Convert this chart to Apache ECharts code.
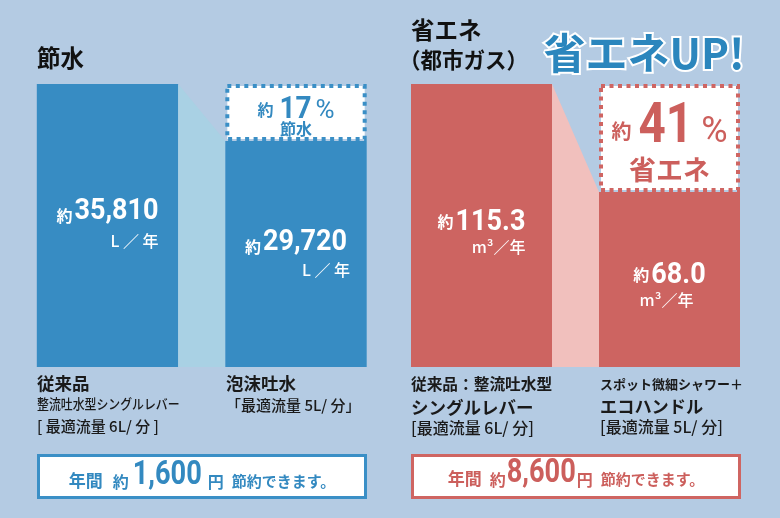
<!DOCTYPE html>
<html><head><meta charset="utf-8">
<script src="https://cdn.jsdelivr.net/npm/echarts@6/dist/echarts.min.js"></script>
<style>html,body{margin:0;padding:0;background:#b4cbe3}#c{width:780px;height:518px}</style>
</head><body><div id="c"></div>
<script>
// ---- data ----
const waterCategories = ['従来品', '泡沫吐水'];
const waterValues = [35810, 29720];
const waterUnit = 'L ／ 年';
const gasCategories = ['従来品：整流吐水型シングルレバー', 'スポット微細シャワー＋エコハンドル'];
const gasValues = [115.3, 68.0];
const gasUnit = 'm³／年';
const waterCaptions = [['従来品', '整流吐水型シングルレバー', '[ 最適流量 6L/ 分 ]'], ['泡沫吐水', '「最適流量 5L/ 分」']];
const gasCaptions = [['従来品：整流吐水型', 'シングルレバー', '[最適流量 6L/ 分]'], ['スポット微細シャワー＋', 'エコハンドル', '[最適流量 5L/ 分]']];
const savingLabels = ['節水', '省エネ'];
const yenSaved = ['1,600', '8,600'];

// ---- style ----
const CJK = "'Noto Sans CJK JP', 'Noto Sans', sans-serif";
const NUM = "Roboto, 'Liberation Sans', sans-serif";

// text-row helper: tokens laid out on a common glyph bottom line
const mctx = document.createElement('canvas').getContext('2d');
mctx.textBaseline = 'middle';
function measure(k) {
  mctx.font = (k.w || 'normal') + ' ' + k.s + 'px ' + k.f;
  const m = mctx.measureText(k.t);
  return { w: m.width * (k.sx || 1), d: m.actualBoundingBoxDescent };
}
function row(tokens, x, yb, align, color) {
  const ms = tokens.map(measure);
  let total = 0;
  ms.forEach((m, i) => { total += m.w + (i < tokens.length - 1 ? (tokens[i].g || 0) : 0); });
  let cx = align === 'center' ? x - total / 2 : align === 'right' ? x - total : x;
  const left = cx;
  const els = tokens.map((k, i) => {
    const el = { type: 'text', x: cx, y: yb - ms[i].d + (k.dy || 0), scaleX: k.sx || 1,
      style: { text: k.t, fontSize: k.s, fontWeight: k.w || 'normal', fontFamily: k.f, fill: k.c || color, align: 'left', verticalAlign: 'middle' } };
    cx += ms[i].w + (k.g || 0);
    return el;
  });
  return { els, left, right: left + total };
}

const panels = [
  { values: waterValues, min: 5600, bar: '#378cc3', link: '#a9d1e4', accent: '#3a8fc6', txt: '#3389c0',
    unit: waterUnit, fmt: v => v.toLocaleString('en-US'), unitAlign: ['right', 'right'], unitDx: [0, 3],
    dy1: [-2, 1], dy2: [23, 24], label: savingLabels[0],
    box: { a: 16, ag: 6, n: 31, nsx: 0.9, ng: 4, p: 26, yb: 118, t: 16, tyb: 137 } },
  { values: gasValues, min: -8.6, bar: '#cd6461', link: '#f1c0bd', accent: '#cf6562', txt: '#cc5f5c',
    unit: gasUnit, fmt: v => v.toFixed(1), unitAlign: ['right', 'center'], unitDx: [0, -3],
    dy1: [4.5, 3.5], dy2: [29.5, 28.5], label: savingLabels[1],
    box: { a: 20, ag: 7, n: 56, nsx: 0.85, ng: 8, p: 36, yb: 142, t: 27, tyb: 183 } }
];

function makeRender(p) {
  return function (params, api) {
    const i = api.value(0), v = api.value(1);
    const cs = params.coordSys;
    const bottom = cs.y + cs.height;
    const w = api.size([1, 0])[0] * 0.75;
    const c = api.coord([i, v]);
    const x0 = c[0] - w / 2;
    const children = [];
    if (i > 0) {
      const prevV = p.values[i - 1];
      const prev = api.coord([i - 1, prevV]);
      children.push({ type: 'polygon', shape: { points: [[prev[0] + w / 2, prev[1]], [x0, c[1]], [x0, bottom], [prev[0] + w / 2, bottom]] }, style: { fill: p.link } });
      const h = c[1] - prev[1];
      children.push({ type: 'rect', shape: { x: x0 + 2, y: prev[1] + 2, width: w - 4, height: h - 4 }, style: { fill: '#fff', stroke: p.accent, lineWidth: 4, lineDash: [4, 4.5] } });
      const pct = Math.round((prevV - v) / prevV * 100);
      const b = p.box;
      const r1 = row([
        { t: '約', s: b.a, w: 'bold', f: CJK, g: b.ag },
        { t: String(pct), s: b.n, w: 'bold', f: NUM, sx: b.nsx, g: b.ng },
        { t: '%', s: b.p, w: 'normal', f: NUM }
      ], c[0], b.yb, 'center', p.txt);
      const r2 = row([{ t: p.label, s: b.t, w: 'bold', f: CJK }], c[0], b.tyb, 'center', p.txt);
      children.push(...r1.els, ...r2.els);
    }
    children.push({ type: 'rect', shape: { x: x0, y: c[1], width: w, height: bottom - c[1] }, style: { fill: p.bar } });
    const mid = (c[1] + bottom) / 2;
    const v1 = row([
      { t: '約', s: 16, w: 'bold', f: CJK, g: 2 },
      { t: p.fmt(v), s: 30, w: 'bold', f: NUM, sx: 0.9 }
    ], c[0], mid + p.dy1[i], 'center', '#fff');
    const ua = p.unitAlign[i];
    const v2 = row([{ t: p.unit, s: 16, w: 500, f: CJK }], (ua === 'right' ? v1.right : c[0]) + p.unitDx[i], mid + p.dy2[i], ua, '#fff');
    children.push(...v1.els, ...v2.els);
    return { type: 'group', children };
  };
}

// captions, titles and boxes
const graphic = [
  { type: 'text', x: 37, y: 58, style: { text: '節水', fontFamily: CJK, fontSize: 23.5, fontWeight: 'bold', fill: '#111', verticalAlign: 'middle' } },
  { type: 'text', x: 411, y: 30, style: { text: '省エネ', fontFamily: CJK, fontSize: 23.5, fontWeight: 'bold', fill: '#111', verticalAlign: 'middle' } },
  { type: 'text', x: 399, y: 60, style: { text: '（都市ガス）', fontFamily: CJK, fontSize: 21.5, fontWeight: 'bold', fill: '#111', verticalAlign: 'middle' } },
  { type: 'text', x: 644, y: 53, style: { text: '省エネUP!', fontFamily: CJK, fontSize: 42, fontWeight: 'bold', fill: '#2b86bd', stroke: '#fff', lineWidth: 4, align: 'center', verticalAlign: 'middle', shadowColor: 'rgba(255,255,255,0.7)', shadowBlur: 6 } }
];

// [fontSize, weight, centerY, scaleX]
const capStyles = [
  [[17.5, 'bold', 383.5, 1], [13.5, 500, 404, 0.88], [15, 500, 426, 1]],
  [[17.5, 'bold', 383.5, 1], [15, 500, 405, 1]],
  [[15.7, 'bold', 384, 1], [17.5, 'bold', 407.5, 1], [16, 500, 427.5, 1]],
  [[13, 'bold', 384, 1], [17.2, 'bold', 406, 1], [16, 500, 427, 1]]
];
const capX = [37, 226, 411, 600];
[waterCaptions[0], waterCaptions[1], gasCaptions[0], gasCaptions[1]].forEach((lines, k) => {
  lines.forEach((t, j) => {
    const s = capStyles[k][j];
    graphic.push({ type: 'text', x: capX[k], y: s[2], scaleX: s[3], style: { text: t, fontFamily: CJK, fontSize: s[0], fontWeight: s[1], fill: '#1a1a1a', verticalAlign: 'middle' } });
  });
});

const boxDefs = [
  { x: 37, color: '#3a8fc6', txt: '#3389c0', text: yenSaved[0], gaps: [10, 4, 6, 8], yb: 490 },
  { x: 411, color: '#cf6562', txt: '#cc5f5c', text: yenSaved[1], gaps: [8, 1, 1, 8], yb: 488 }
];
boxDefs.forEach(b => {
  graphic.push({ type: 'rect', shape: { x: b.x + 1.5, y: 455.5, width: 327, height: 42 }, style: { fill: '#fff', stroke: b.color, lineWidth: 3 } });
  const r = row([
    { t: '年間', s: 17, w: 'bold', f: CJK, g: b.gaps[0] },
    { t: '約', s: 16, w: 'bold', f: CJK, g: b.gaps[1] },
    { t: b.text, s: 34, w: 'bold', f: NUM, sx: 0.8, g: b.gaps[2] },
    { t: '円', s: 16, w: 'bold', f: CJK, g: b.gaps[3] },
    { t: '節約できます。', s: 15, w: 'bold', f: CJK }
  ], b.x + 165, b.yb, 'center', b.txt);
  graphic.push(...r.els);
});

const option = {
  backgroundColor: '#b4cbe3',
  animation: false,
  grid: [
    { left: 13.25, width: 377, top: 84, height: 283 },
    { left: 387.5, width: 376, top: 84, height: 283 }
  ],
  xAxis: [
    { type: 'category', gridIndex: 0, data: waterCategories, show: false },
    { type: 'category', gridIndex: 1, data: gasCategories, show: false }
  ],
  yAxis: [
    { type: 'value', gridIndex: 0, min: panels[0].min, max: waterValues[0], show: false },
    { type: 'value', gridIndex: 1, min: panels[1].min, max: gasValues[0], show: false }
  ],
  series: [
    { type: 'custom', xAxisIndex: 0, yAxisIndex: 0, data: waterValues.map((v, i) => [i, v]), encode: { x: 0, y: 1 }, renderItem: makeRender(panels[0]), clip: false },
    { type: 'custom', xAxisIndex: 1, yAxisIndex: 1, data: gasValues.map((v, i) => [i, v]), encode: { x: 0, y: 1 }, renderItem: makeRender(panels[1]), clip: false }
  ],
  graphic: graphic
};

const chart = echarts.init(document.getElementById('c'), null, { renderer: 'canvas' });
chart.setOption(option);
</script>
</body></html>
